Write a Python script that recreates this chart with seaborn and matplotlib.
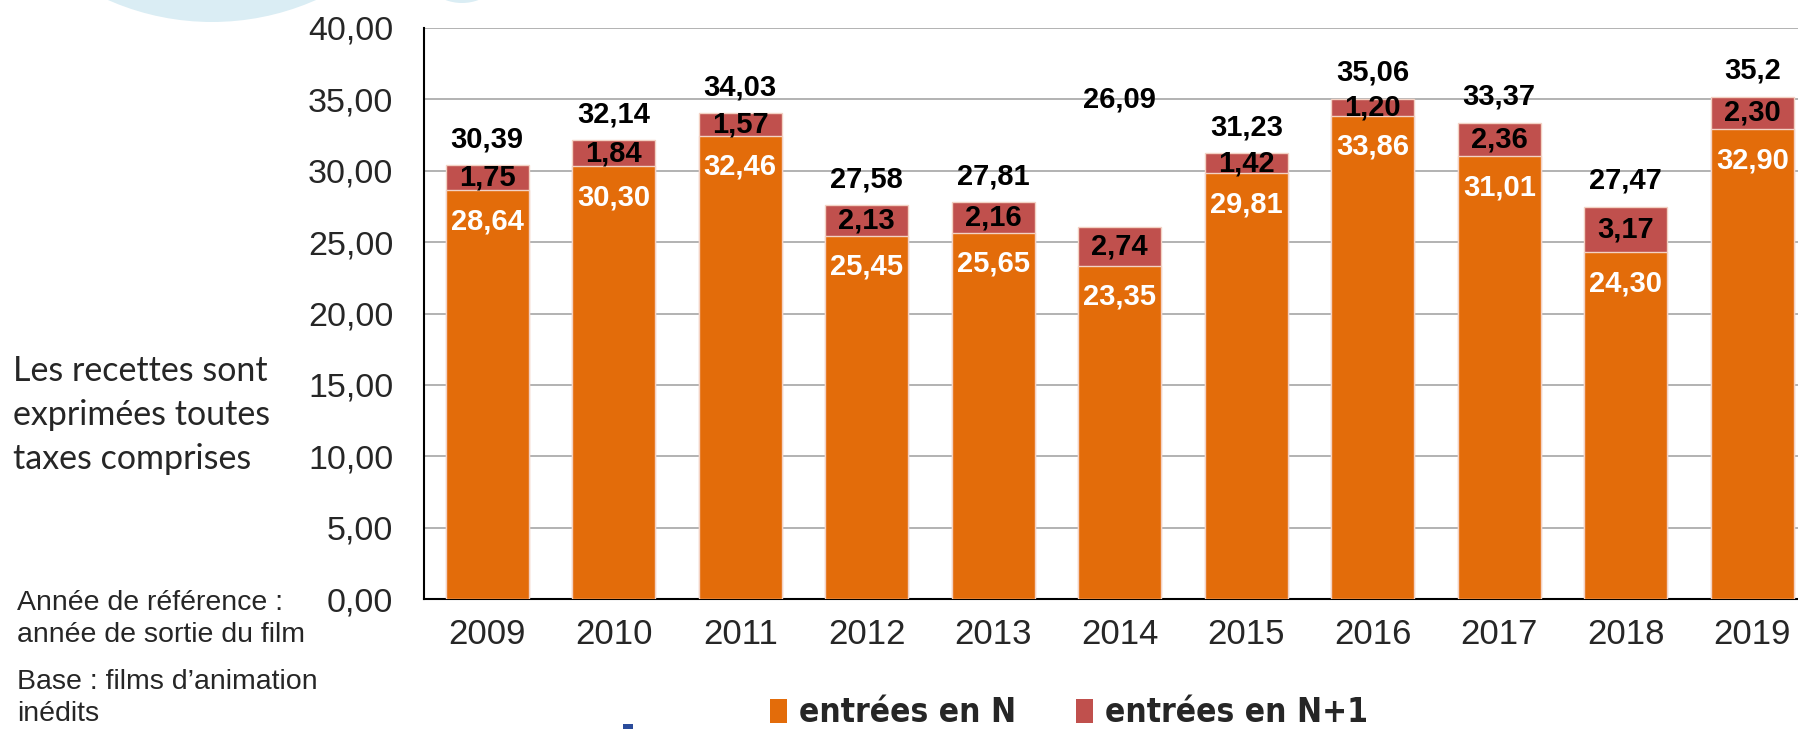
import matplotlib
matplotlib.use("Agg")
import matplotlib.pyplot as plt
from matplotlib import font_manager
from matplotlib.patches import Ellipse, Rectangle, Patch
import seaborn as sns
import numpy as np
import pandas as pd

# data
years = ['2009', '2010', '2011', '2012', '2013', '2014', '2015', '2016', '2017', '2018', '2019']
entrees_n = [28.64, 30.30, 32.46, 25.45, 25.65, 23.35, 29.81, 33.86, 31.01, 24.30, 32.90]
entrees_n1 = [1.75, 1.84, 1.57, 2.13, 2.16, 2.74, 1.42, 1.20, 2.36, 3.17, 2.30]
totals = ['30,39', '32,14', '34,03', '27,58', '27,81', '26,09', '31,23', '35,06', '33,37', '27,47', '35,2']
y_ticks = [0, 5, 10, 15, 20, 25, 30, 35, 40]

orange = '#E36C0A'
red = '#C0504D'

df = pd.DataFrame({'year': years, 'n': entrees_n, 'n1': entrees_n1})
df['top'] = df['n'] + df['n1']

sns.set_style("white")
plt.rcParams['font.family'] = ['Liberation Sans', 'DejaVu Sans']

# condensed bold font for the legend if one is around
legend_prop = {'family': ['Liberation Sans'], 'weight': 'bold', 'size': 21}
for fam, stretch in [('Liberation Sans Narrow', 'normal'), ('DejaVu Sans', 'condensed')]:
    try:
        fp = font_manager.FontProperties(family=fam, weight='bold', stretch=stretch)
        path = font_manager.findfont(fp, fallback_to_default=False)
        if 'Narrow' in path or 'Condensed' in path:
            legend_prop = {'family': [fam], 'weight': 'bold', 'stretch': stretch, 'size': 24}
            break
    except Exception:
        pass

W, H = 1798, 729
fig = plt.figure(figsize=(W / 100, H / 100), dpi=100)
ax = fig.add_axes([424 / W, 1 - 599 / H, 1391.5 / W, (599 - 28) / H])

# stacked bars: full height in red, then N part in orange over it
sns.barplot(data=df, x='year', y='top', color=red, saturation=1, width=0.66,
            edgecolor='#f3d2c4', linewidth=1, ax=ax, zorder=2)
sns.barplot(data=df, x='year', y='n', color=orange, saturation=1, width=0.66,
            edgecolor='#f3d2c4', linewidth=1, ax=ax, zorder=3)

ax.set_xlim(-0.5, 10.5)
ax.set_ylim(0, 40)
ax.set_yticks(y_ticks)
ax.set_yticklabels([f'{v:.2f}'.replace('.', ',') for v in y_ticks])
ax.yaxis.grid(True, color='#a6a6a6', linewidth=1.2, zorder=0)
ax.set_axisbelow(True)
ax.set_xlabel('')
ax.set_ylabel('')

for s in ['top', 'right']:
    ax.spines[s].set_visible(False)
for s in ['left', 'bottom']:
    ax.spines[s].set_color('black')
    ax.spines[s].set_linewidth(1.5)

ax.tick_params(axis='y', direction='in', length=8, color='#909090', width=1,
               pad=22, labelsize=24.5)
ax.tick_params(axis='x', which='major', length=0, pad=14, labelsize=25)
ax.set_xticks(np.arange(0.5, 10, 1), minor=True)
ax.tick_params(axis='x', which='minor', direction='in', length=7, color='#a0a0a0', width=1)

px = 0.72  # points per pixel at 100 dpi
for i, yr in enumerate(years):
    n, n1 = entrees_n[i], entrees_n1[i]
    ax.annotate(f'{n:.2f}'.replace('.', ','), (i, n), xytext=(0, -31 * px),
                textcoords='offset points', ha='center', va='center',
                color='white', fontsize=21, fontweight='bold', zorder=5)
    ax.annotate(f'{n1:.2f}'.replace('.', ','), (i, n + n1 / 2), ha='center', va='center',
                color='black', fontsize=21, fontweight='bold', zorder=5)
    anchor = n + n1
    if yr == '2014':
        anchor = 33.2  # label sits high in the original
    ax.annotate(totals[i], (i, anchor), xytext=(0, 26 * px),
                textcoords='offset points', ha='center', va='center',
                color='black', fontsize=21, fontweight='bold', zorder=5)

# side notes, one line at a time on their baselines
note_lines = ['Les recettes sont', 'exprimées toutes', 'taxes comprises']
for line, base in zip(note_lines, [381, 425, 469]):
    fig.text(13 / W, 1 - base / H, line, family=['Lato', 'DejaVu Sans'],
             fontsize=24.5, ha='left', va='baseline')

ref_lines = ['Année de référence :', 'année de sortie du film',
             'Base : films d\u2019animation', 'inédits']
for line, base in zip(ref_lines, [610, 642, 689, 721]):
    fig.text(17 / W, 1 - base / H, line, fontsize=20.5, ha='left', va='baseline')

# legend
handles = [Patch(facecolor=orange, edgecolor='none', label='entrées en N'),
           Patch(facecolor=red, edgecolor='none', label='entrées en N+1')]
fig.legend(handles=handles, loc='center', bbox_to_anchor=(1069 / W, 1 - 713 / H),
           ncol=2, frameon=False, handlelength=0.52, handleheight=0.75,
           handletextpad=0.35, columnspacing=1.8, borderpad=0, prop=legend_prop)

# decorative shapes from the slide
fig.patches.append(Ellipse((212 / W, 1 + 235 / H), 514 / W, 514 / H,
                           transform=fig.transFigure, facecolor='#daedf4',
                           edgecolor='none', zorder=0))
fig.patches.append(Ellipse((462 / W, 1 + 40 / H), 90 / W, 86 / H,
                           transform=fig.transFigure, facecolor='#daedf4',
                           edgecolor='none', zorder=0))
fig.patches.append(Rectangle((623 / W, 0), 10 / W, 5 / H, transform=fig.transFigure,
                             facecolor='#2b4c9b', edgecolor='none'))

fig.savefig('out.png', dpi=100)
